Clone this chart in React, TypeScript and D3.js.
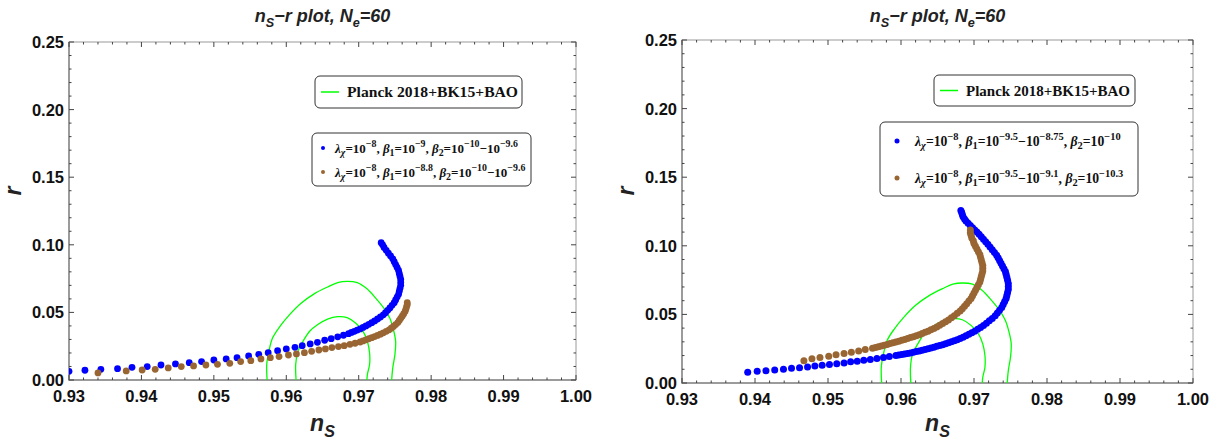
import { useRef, useEffect } from 'react';
import * as d3 from 'd3';

// ns, r pairs
const LEFT_BLUE: [number, number][] = [
  [0.9300, 0.0064], [0.9322, 0.0072], [0.9344, 0.0079], [0.9367, 0.0084], [0.9387, 0.0094],
  [0.9408, 0.0099], [0.9427, 0.0111], [0.9447, 0.0119], [0.9466, 0.0128], [0.9483, 0.0136],
  [0.9500, 0.0148], [0.9517, 0.0156], [0.9532, 0.0165], [0.9548, 0.0178], [0.9562, 0.0190],
  [0.9575, 0.0202], [0.9588, 0.0217], [0.9600, 0.0230], [0.9612, 0.0242], [0.9622, 0.0254],
  [0.9633, 0.0267], [0.9643, 0.0279], [0.9653, 0.0294], [0.9662, 0.0306], [0.9671, 0.0319],
  [0.9679, 0.0331], [0.9686, 0.0343], [0.9690, 0.0352], [0.9694, 0.0360], [0.9698, 0.0369],
  [0.9702, 0.0378], [0.9706, 0.0389], [0.9710, 0.0400], [0.9714, 0.0412], [0.9718, 0.0424],
  [0.9722, 0.0437], [0.9726, 0.0451], [0.9730, 0.0466], [0.9734, 0.0482], [0.9737, 0.0498],
  [0.9740, 0.0515], [0.9743, 0.0533], [0.9746, 0.0552], [0.9749, 0.0572], [0.9751, 0.0592],
  [0.9753, 0.0613], [0.9755, 0.0634], [0.9756, 0.0656], [0.9757, 0.0678], [0.9758, 0.0700],
  [0.9758, 0.0722], [0.9758, 0.0744], [0.9757, 0.0766], [0.9756, 0.0788], [0.9755, 0.0810],
  [0.9753, 0.0832], [0.9751, 0.0854], [0.9749, 0.0875], [0.9747, 0.0896], [0.9744, 0.0917],
  [0.9741, 0.0938], [0.9738, 0.0959], [0.9735, 0.0980], [0.9733, 0.1000], [0.9731, 0.1015],
];

const LEFT_BROWN: [number, number][] = [
  [0.9340, 0.0052], [0.9379, 0.0067], [0.9401, 0.0074], [0.9419, 0.0079], [0.9437, 0.0089],
  [0.9455, 0.0099], [0.9472, 0.0104], [0.9489, 0.0111], [0.9505, 0.0116], [0.9522, 0.0123],
  [0.9537, 0.0136], [0.9551, 0.0143], [0.9565, 0.0156], [0.9578, 0.0165], [0.9590, 0.0173],
  [0.9603, 0.0185], [0.9614, 0.0193], [0.9625, 0.0202], [0.9635, 0.0212], [0.9645, 0.0222],
  [0.9654, 0.0230], [0.9663, 0.0240], [0.9672, 0.0247], [0.9680, 0.0254], [0.9688, 0.0264],
  [0.9695, 0.0272], [0.9702, 0.0281], [0.9706, 0.0289], [0.9710, 0.0297], [0.9714, 0.0305],
  [0.9718, 0.0313], [0.9722, 0.0321], [0.9726, 0.0330], [0.9730, 0.0339], [0.9734, 0.0349],
  [0.9738, 0.0360], [0.9742, 0.0371], [0.9745, 0.0383], [0.9748, 0.0396], [0.9751, 0.0410],
  [0.9754, 0.0425], [0.9756, 0.0440], [0.9758, 0.0456], [0.9760, 0.0472], [0.9762, 0.0489],
  [0.9764, 0.0506], [0.9765, 0.0523], [0.9766, 0.0540], [0.9767, 0.0557], [0.9767, 0.0572],
];

const RIGHT_BLUE: [number, number][] = [
  [0.9390, 0.0078], [0.9403, 0.0085], [0.9415, 0.0090], [0.9427, 0.0095], [0.9439, 0.0100],
  [0.9450, 0.0107], [0.9461, 0.0112], [0.9472, 0.0117], [0.9482, 0.0124], [0.9492, 0.0129],
  [0.9502, 0.0134], [0.9512, 0.0141], [0.9522, 0.0146], [0.9531, 0.0154], [0.9540, 0.0159],
  [0.9549, 0.0166], [0.9558, 0.0171], [0.9567, 0.0178], [0.9576, 0.0185], [0.9584, 0.0193],
  [0.9593, 0.0200], [0.9597, 0.0204], [0.9601, 0.0207], [0.9605, 0.0211], [0.9609, 0.0215],
  [0.9613, 0.0219], [0.9617, 0.0224], [0.9621, 0.0229], [0.9625, 0.0234], [0.9629, 0.0239],
  [0.9633, 0.0244], [0.9637, 0.0249], [0.9641, 0.0255], [0.9645, 0.0261], [0.9649, 0.0267],
  [0.9653, 0.0273], [0.9657, 0.0279], [0.9661, 0.0286], [0.9665, 0.0293], [0.9669, 0.0300],
  [0.9673, 0.0308], [0.9677, 0.0316], [0.9681, 0.0325], [0.9685, 0.0334], [0.9689, 0.0344],
  [0.9693, 0.0355], [0.9697, 0.0366], [0.9701, 0.0378], [0.9705, 0.0391], [0.9709, 0.0405],
  [0.9713, 0.0420], [0.9717, 0.0436], [0.9721, 0.0453], [0.9725, 0.0471], [0.9729, 0.0490],
  [0.9732, 0.0510], [0.9735, 0.0530], [0.9738, 0.0551], [0.9740, 0.0572], [0.9742, 0.0594],
  [0.9744, 0.0616], [0.9745, 0.0638], [0.9746, 0.0660], [0.9747, 0.0682], [0.9747, 0.0704],
  [0.9747, 0.0726], [0.9746, 0.0748], [0.9745, 0.0770], [0.9744, 0.0792], [0.9743, 0.0812],
  [0.9741, 0.0832], [0.9739, 0.0852], [0.9737, 0.0872], [0.9735, 0.0892], [0.9733, 0.0912],
  [0.9731, 0.0932], [0.9728, 0.0952], [0.9725, 0.0972], [0.9722, 0.0992], [0.9719, 0.1012],
  [0.9716, 0.1030], [0.9713, 0.1048], [0.9710, 0.1066], [0.9707, 0.1084], [0.9704, 0.1100],
  [0.9701, 0.1116], [0.9698, 0.1132], [0.9695, 0.1148], [0.9692, 0.1164], [0.9689, 0.1180],
  [0.9687, 0.1196], [0.9685, 0.1212], [0.9684, 0.1228], [0.9683, 0.1244], [0.9682, 0.1258],
];

const RIGHT_BROWN: [number, number][] = [
  [0.9467, 0.0163], [0.9478, 0.0176], [0.9489, 0.0185], [0.9501, 0.0195], [0.9511, 0.0205],
  [0.9522, 0.0215], [0.9532, 0.0224], [0.9542, 0.0234], [0.9551, 0.0244], [0.9561, 0.0254],
  [0.9565, 0.0259], [0.9569, 0.0264], [0.9573, 0.0270], [0.9577, 0.0275], [0.9581, 0.0281],
  [0.9585, 0.0287], [0.9589, 0.0293], [0.9593, 0.0299], [0.9597, 0.0305], [0.9601, 0.0311],
  [0.9605, 0.0317], [0.9609, 0.0324], [0.9613, 0.0331], [0.9617, 0.0338], [0.9621, 0.0345],
  [0.9625, 0.0352], [0.9629, 0.0360], [0.9633, 0.0369], [0.9637, 0.0378], [0.9641, 0.0388],
  [0.9645, 0.0398], [0.9649, 0.0409], [0.9653, 0.0421], [0.9657, 0.0433], [0.9661, 0.0446],
  [0.9665, 0.0460], [0.9669, 0.0475], [0.9673, 0.0491], [0.9677, 0.0508], [0.9681, 0.0525],
  [0.9684, 0.0542], [0.9687, 0.0560], [0.9690, 0.0578], [0.9693, 0.0597], [0.9696, 0.0616],
  [0.9698, 0.0636], [0.9700, 0.0656], [0.9702, 0.0676], [0.9704, 0.0696], [0.9706, 0.0716],
  [0.9708, 0.0736], [0.9709, 0.0756], [0.9710, 0.0776], [0.9711, 0.0796], [0.9712, 0.0816],
  [0.9712, 0.0836], [0.9712, 0.0856], [0.9711, 0.0876], [0.9710, 0.0896], [0.9709, 0.0916],
  [0.9708, 0.0936], [0.9706, 0.0956], [0.9704, 0.0976], [0.9702, 0.0996], [0.9700, 0.1016],
  [0.9699, 0.1036], [0.9697, 0.1056], [0.9696, 0.1076], [0.9695, 0.1096], [0.9695, 0.1116],
];

// Planck 2018+BK15+BAO contours (95% and 68%)
const PLANCK_OUTER: [number, number][] = [
  [0.9574, -0.004], [0.9573, 0.0115], [0.9576, 0.0212], [0.9581, 0.0310], [0.9591, 0.0395],
  [0.9604, 0.0480], [0.9620, 0.0566], [0.9639, 0.0639], [0.9657, 0.0688], [0.9671, 0.0720],
  [0.9684, 0.0729], [0.9698, 0.0720], [0.9711, 0.0676], [0.9724, 0.0602], [0.9735, 0.0529],
  [0.9743, 0.0456], [0.9748, 0.0371], [0.9751, 0.0285], [0.9750, 0.0188], [0.9747, 0.0090],
  [0.9745, -0.004],
];
const PLANCK_INNER: [number, number][] = [
  [0.9614, -0.004], [0.9613, 0.0115], [0.9616, 0.0212], [0.9623, 0.0285], [0.9632, 0.0359],
  [0.9644, 0.0412], [0.9657, 0.0451], [0.9671, 0.0468], [0.9684, 0.0461], [0.9696, 0.0420],
  [0.9706, 0.0359], [0.9712, 0.0285], [0.9715, 0.0200], [0.9715, 0.0115], [0.9712, 0.0041],
  [0.9711, -0.004],
];

const X_TICKS = [0.93, 0.94, 0.95, 0.96, 0.97, 0.98, 0.99, 1.0];
const Y_TICKS = [0.0, 0.05, 0.1, 0.15, 0.2, 0.25];

type Seg = [string, 'n' | 'sub' | 'sup', boolean?];

const TITLE: Seg[] = [['n', 'n'], ['S', 'sub'], ['\u2212r plot, N', 'n'], ['e', 'sub'], ['=60', 'n']];
const PLANCK_LABEL = 'Planck 2018+BK15+BAO';
const lam: Seg[] = [['\u03bb', 'n', true], ['\u03c7', 'sub', true], ['=10', 'n'], ['\u22128', 'sup']];
const LEFT_LEG_BLUE: Seg[] = [...lam, [', ', 'n'], ['\u03b2', 'n', true], ['1', 'sub'], ['=10', 'n'], ['\u22129', 'sup'],
  [', ', 'n'], ['\u03b2', 'n', true], ['2', 'sub'], ['=10', 'n'], ['\u221210', 'sup'], ['\u221210', 'n'], ['\u22129.6', 'sup']];
const LEFT_LEG_BROWN: Seg[] = [...lam, [', ', 'n'], ['\u03b2', 'n', true], ['1', 'sub'], ['=10', 'n'], ['\u22128.8', 'sup'],
  [', ', 'n'], ['\u03b2', 'n', true], ['2', 'sub'], ['=10', 'n'], ['\u221210', 'sup'], ['\u221210', 'n'], ['\u22129.6', 'sup']];
const RIGHT_LEG_BLUE: Seg[] = [...lam, [', ', 'n'], ['\u03b2', 'n', true], ['1', 'sub'], ['=10', 'n'], ['\u22129.5', 'sup'],
  ['\u221210', 'n'], ['\u22128.75', 'sup'], [', ', 'n'], ['\u03b2', 'n', true], ['2', 'sub'], ['=10', 'n'], ['\u221210', 'sup']];
const RIGHT_LEG_BROWN: Seg[] = [...lam, [', ', 'n'], ['\u03b2', 'n', true], ['1', 'sub'], ['=10', 'n'], ['\u22129.5', 'sup'],
  ['\u221210', 'n'], ['\u22129.1', 'sup'], [', ', 'n'], ['\u03b2', 'n', true], ['2', 'sub'], ['=10', 'n'], ['\u221210.3', 'sup']];

const BLUE = '#0000ff';
const BROWN = '#996633';
const GREEN = '#00ff00';
const SANS = '"Liberation Sans", Arial, sans-serif';
const SERIF = '"Liberation Serif", "Times New Roman", serif';

function richText(sel: any, segs: Seg[], size: number, small = 0.7) {
  let shift = 0;
  segs.forEach(([t, kind, italic]) => {
    const target = kind === 'sub' ? size * 0.28 : kind === 'sup' ? -size * 0.4 : 0;
    sel.append('tspan')
      .attr('dy', target - shift)
      .attr('font-size', kind === 'n' ? size : size * small)
      .attr('font-style', italic ? 'italic' : null)
      .text(t);
    shift = target;
  });
}

const PANELS = [
  {
    x0: 69, x1: 576, y0: 380, y1: 42, blue: LEFT_BLUE, brown: LEFT_BROWN, dotR: 3.4,
    planck: { x: 315, y: 76, w: 207, h: 32, tw: 171, fs: 15 },
    leg: { x: 312, y: 133, w: 219, h: 53, rows: [148, 172], fs: 13.0, items: [LEFT_LEG_BLUE, LEFT_LEG_BROWN], mr: 2, mx: 11, tx: 23 },
  },
  {
    x0: 682, x1: 1193, y0: 383, y1: 40, blue: RIGHT_BLUE, brown: RIGHT_BROWN, dotR: 3.5,
    planck: { x: 934, y: 75, w: 201, h: 31, tw: 164, fs: 15 },
    leg: { x: 880, y: 122, w: 258, h: 74, rows: [141, 178], fs: 13.7, items: [RIGHT_LEG_BLUE, RIGHT_LEG_BROWN], mr: 2.5, mx: 17, tx: 35 },
  },
];

export default function App() {
  const svgRef = useRef<SVGSVGElement>(null);

  useEffect(() => {
    if (!svgRef.current) return;
    const svg = d3.select(svgRef.current);
    svg.selectAll('*').remove();

    PANELS.forEach((p, pi) => {
      const x = d3.scaleLinear().domain([0.93, 1.0]).range([p.x0, p.x1]);
      const y = d3.scaleLinear().domain([0, 0.25]).range([p.y0, p.y1]);
      const g = svg.append('g');
      const clipId = `clip${pi}`;
      g.append('clipPath').attr('id', clipId)
        .append('rect').attr('x', p.x0).attr('y', p.y1).attr('width', p.x1 - p.x0).attr('height', p.y0 - p.y1);

      // title
      const cx = (p.x0 + p.x1) / 2;
      const title = g.append('text').attr('x', cx).attr('y', 22).attr('text-anchor', 'middle')
        .attr('font-family', SANS).attr('font-weight', 'bold').attr('font-style', 'italic').attr('fill', '#222');
      richText(title, TITLE, 18);

      // frame
      g.append('rect').attr('x', p.x0).attr('y', p.y1).attr('width', p.x1 - p.x0).attr('height', p.y0 - p.y1)
        .attr('fill', 'none').attr('stroke', '#9a9a9a').attr('stroke-width', 1);
      g.append('path').attr('d', `M${p.x0},${p.y1}V${p.y0}H${p.x1}`)
        .attr('fill', 'none').attr('stroke', '#8a8a8a').attr('stroke-width', 1.5);

      // ticks on all four sides, inward
      const tk = g.append('g').attr('stroke', '#444').attr('stroke-width', 1);
      x.ticks(35).forEach((v) => {
        const len = Math.abs(v * 100 - Math.round(v * 100)) < 1e-6 ? 5 : 2.5;
        tk.append('line').attr('x1', x(v)).attr('x2', x(v)).attr('y1', p.y0).attr('y2', p.y0 - len);
        tk.append('line').attr('x1', x(v)).attr('x2', x(v)).attr('y1', p.y1).attr('y2', p.y1 + len);
      });
      y.ticks(25).forEach((v) => {
        const len = Math.abs(v * 20 - Math.round(v * 20)) < 1e-6 ? 5 : 2.5;
        tk.append('line').attr('y1', y(v)).attr('y2', y(v)).attr('x1', p.x0).attr('x2', p.x0 + len);
        tk.append('line').attr('y1', y(v)).attr('y2', y(v)).attr('x1', p.x1).attr('x2', p.x1 - len);
      });

      // tick labels
      const fmt = d3.format('.2f');
      g.append('g').selectAll('text').data(X_TICKS).join('text')
        .attr('x', (d) => x(d)).attr('y', p.y0 + 22).attr('text-anchor', 'middle')
        .attr('font-family', SANS).attr('font-weight', 'bold').attr('font-size', 16.5).attr('fill', '#111')
        .text((d) => fmt(d));
      g.append('g').selectAll('text').data(Y_TICKS).join('text')
        .attr('x', p.x0 - 5).attr('y', (d) => y(d) + 6).attr('text-anchor', 'end')
        .attr('font-family', SANS).attr('font-weight', 'bold').attr('font-size', 16.5).attr('fill', '#111')
        .text((d) => fmt(d));

      // axis labels
      const xl = g.append('text').attr('x', cx).attr('y', 431).attr('text-anchor', 'middle')
        .attr('font-family', SANS).attr('font-weight', 'bold').attr('font-style', 'italic').attr('fill', '#222');
      richText(xl, [['n', 'n'], ['S', 'sub']], 23);
      g.append('text').attr('transform', `translate(${p.x0 - 48},191) rotate(-90)`)
        .attr('text-anchor', 'middle').attr('font-family', SANS).attr('font-weight', 'bold')
        .attr('font-style', 'italic').attr('font-size', 23).attr('fill', '#222').text('r');

      const plot = g.append('g').attr('clip-path', `url(#${clipId})`);

      // Planck contours
      const line = d3.line<[number, number]>().x((d) => x(d[0])).y((d) => y(d[1])).curve(d3.curveCatmullRom);
      [PLANCK_OUTER, PLANCK_INNER].forEach((c) => {
        plot.append('path').datum(c).attr('d', line).attr('fill', 'none')
          .attr('stroke', GREEN).attr('stroke-width', 1.3);
      });

      // model points
      [[p.blue, BLUE], [p.brown, BROWN]].forEach(([pts, color]) => {
        plot.append('g').selectAll('circle').data(pts as [number, number][]).join('circle')
          .attr('cx', (d) => x(d[0])).attr('cy', (d) => y(d[1])).attr('r', p.dotR).attr('fill', color as string);
      });

      // Planck legend
      const pl = p.planck;
      g.append('rect').attr('x', pl.x).attr('y', pl.y).attr('width', pl.w).attr('height', pl.h).attr('rx', 5)
        .attr('fill', '#fff').attr('stroke', '#333').attr('stroke-width', 1);
      g.append('line').attr('x1', pl.x + 6).attr('x2', pl.x + 24).attr('y1', pl.y + pl.h / 2).attr('y2', pl.y + pl.h / 2)
        .attr('stroke', GREEN).attr('stroke-width', 1.5);
      g.append('text').attr('x', pl.x + 32).attr('y', pl.y + pl.h / 2 + 5).attr('font-family', SERIF)
        .attr('font-weight', 'bold').attr('font-size', pl.fs).attr('fill', '#111')
        .attr('textLength', pl.tw).attr('lengthAdjust', 'spacingAndGlyphs').text(PLANCK_LABEL);

      // series legend
      const lg = p.leg;
      g.append('rect').attr('x', lg.x).attr('y', lg.y).attr('width', lg.w).attr('height', lg.h).attr('rx', 5)
        .attr('fill', '#fff').attr('stroke', '#333').attr('stroke-width', 1);
      lg.items.forEach((segs, i) => {
        const ry = lg.rows[i];
        g.append('circle').attr('cx', lg.x + lg.mx).attr('cy', ry).attr('r', lg.mr).attr('fill', i === 0 ? BLUE : BROWN);
        const t = g.append('text').attr('x', lg.x + lg.tx).attr('y', ry + 4.5).attr('font-family', SERIF)
          .attr('font-weight', 'bold').attr('fill', '#111');
        richText(t, segs, lg.fs, 0.76);
      });
    });
  }, []);

  return (
    <div style={{ position: 'absolute', left: 0, top: 0 }}>
      <svg ref={svgRef} width={1222} height={441} style={{ display: 'block', background: '#fff' }} />
    </div>
  );
}
